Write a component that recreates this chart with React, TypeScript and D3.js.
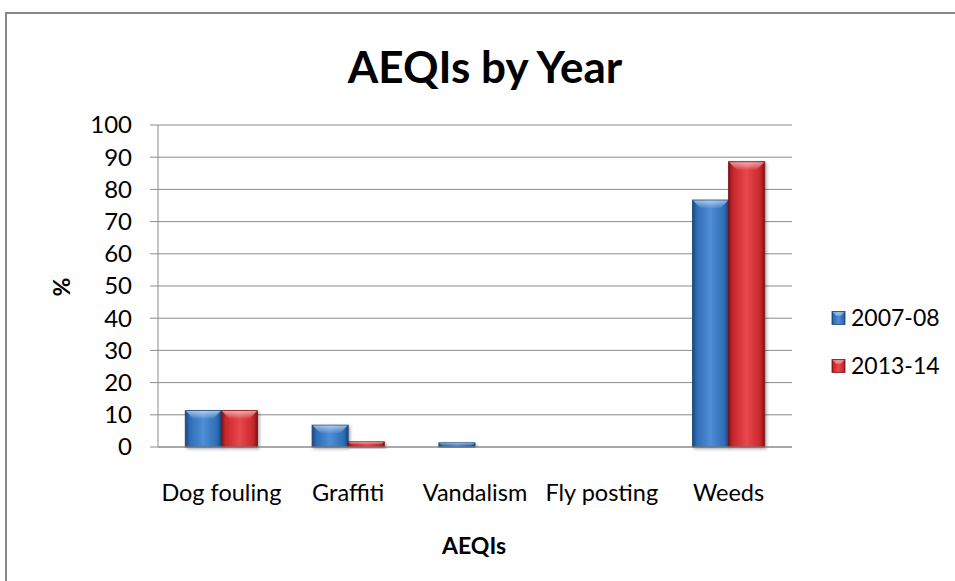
import React from "react";
import * as d3 from "d3";

const categories = ["Dog fouling", "Graffiti", "Vandalism", "Fly posting", "Weeds"];
const seriesNames = ["2007-08", "2013-14"];
const values2007 = [11.3, 6.8, 1.3, 0, 76.7];
const values2013 = [11.3, 1.6, 0, 0, 88.6];
const yTicks = [0, 10, 20, 30, 40, 50, 60, 70, 80, 90, 100];

const W = 955;
const H = 581;
const plot = { left: 158, right: 792, top: 125, bottom: 447 };
const font = "Lato, 'Open Sans', sans-serif";

const colors = [
  { light: "#4F8DD6", mid: "#2E6DB6", dark: "#1B4679" },
  { light: "#E8474B", mid: "#C8272C", dark: "#7E1417" },
];

export default function App() {
  const x0 = d3.scaleBand<string>().domain(categories).range([plot.left, plot.right]).paddingInner(0.43).paddingOuter(0.215);
  const x1 = d3.scaleBand<string>().domain(seriesNames).range([0, x0.bandwidth()]);
  const y = d3.scaleLinear().domain([0, 100]).range([plot.bottom, plot.top]);
  const data = [values2007, values2013];

  return (
    <svg width={W} height={H} style={{ position: "absolute", left: 0, top: 0, background: "#fff" }}>
      <defs>
        {colors.map((c, i) => (
          <linearGradient key={i} id={`g${i}`} x1="0" y1="0" x2="1" y2="0">
            <stop offset="0" stopColor={c.dark} />
            <stop offset="0.12" stopColor={c.mid} />
            <stop offset="0.5" stopColor={c.light} />
            <stop offset="0.88" stopColor={c.mid} />
            <stop offset="1" stopColor={c.dark} />
          </linearGradient>
        ))}
        {colors.map((c, i) => (
          <linearGradient key={"t" + i} id={`t${i}`} x1="0" y1="0" x2="0" y2="1">
            <stop offset="0" stopColor="#fff" stopOpacity="0.55" />
            <stop offset="1" stopColor="#fff" stopOpacity="0.05" />
          </linearGradient>
        ))}
        <filter id="sh" x="-20%" y="-20%" width="140%" height="140%">
          <feDropShadow dx="1.5" dy="1.5" stdDeviation="1.5" floodColor="#000" floodOpacity="0.35" />
        </filter>
      </defs>
      <rect x={6} y={13} width={W + 20} height={H + 20} fill="#fff" stroke="#868686" strokeWidth={2} />
      <text x={485} y={83} textAnchor="middle" fontFamily={font} fontWeight="bold" fontSize={44} fill="#000">
        AEQIs by Year
      </text>
      {yTicks.map((t) => (
        <g key={t}>
          <line x1={plot.left - 8} x2={plot.right} y1={y(t)} y2={y(t)} stroke="#8c8c8c" strokeWidth={1} />
          <text x={plot.left - 26} y={y(t)} dy="0.35em" textAnchor="end" fontFamily={font} fontSize={24} fill="#000">
            {t}
          </text>
        </g>
      ))}
      <line x1={plot.left} x2={plot.left} y1={plot.top} y2={plot.bottom} stroke="#8c8c8c" strokeWidth={1} />
      {categories.map((cat, ci) =>
        data.map((vals, si) => {
          const v = vals[ci];
          if (v <= 0) return null;
          const bx = (x0(cat) as number) + (x1(seriesNames[si]) as number);
          const bw = x1.bandwidth();
          const by = y(v);
          const bh = y(0) - by;
          const bev = Math.min(8, bh / 2);
          return (
            <g key={cat + si} filter="url(#sh)">
              <rect x={bx} y={by} width={bw} height={bh} fill={`url(#g${si})`} stroke={colors[si].dark} strokeWidth={0.8} />
              <polygon
                points={`${bx + 0.5},${by + 0.5} ${bx + bw - 0.5},${by + 0.5} ${bx + bw - bev},${by + bev} ${bx + bev},${by + bev}`}
                fill={`url(#t${si})`}
              />
            </g>
          );
        })
      )}
      <line x1={plot.left} x2={plot.right} y1={plot.bottom} y2={plot.bottom} stroke="#8c8c8c" strokeWidth={1} />
      {categories.map((cat) => (
        <text key={cat} x={(x0(cat) as number) + x0.bandwidth() / 2} y={501} textAnchor="middle" fontFamily={font} fontSize={23.5} fill="#000">
          {cat}
        </text>
      ))}
      <text x={474} y={554} textAnchor="middle" fontFamily={font} fontWeight="bold" fontSize={23} fill="#000">
        AEQIs
      </text>
      <text transform={`translate(62,287) rotate(-90)`} textAnchor="middle" dy="0.35em" fontFamily={font} fontWeight="bold" fontSize={23} fill="#000">
        %
      </text>
      {seriesNames.map((s, i) => (
        <g key={s} transform={`translate(832,${318 + i * 48})`}>
          <rect x={0} y={-6.5} width={13} height={13} fill={`url(#g${i})`} stroke={colors[i].dark} strokeWidth={0.8} />
          <polygon points="0.5,-6 12.5,-6 9,-2.5 4,-2.5" fill="#fff" fillOpacity={0.4} />
          <text x={19} y={0} dy="0.35em" fontFamily={font} fontSize={23} fill="#000">
            {s}
          </text>
        </g>
      ))}
    </svg>
  );
}
